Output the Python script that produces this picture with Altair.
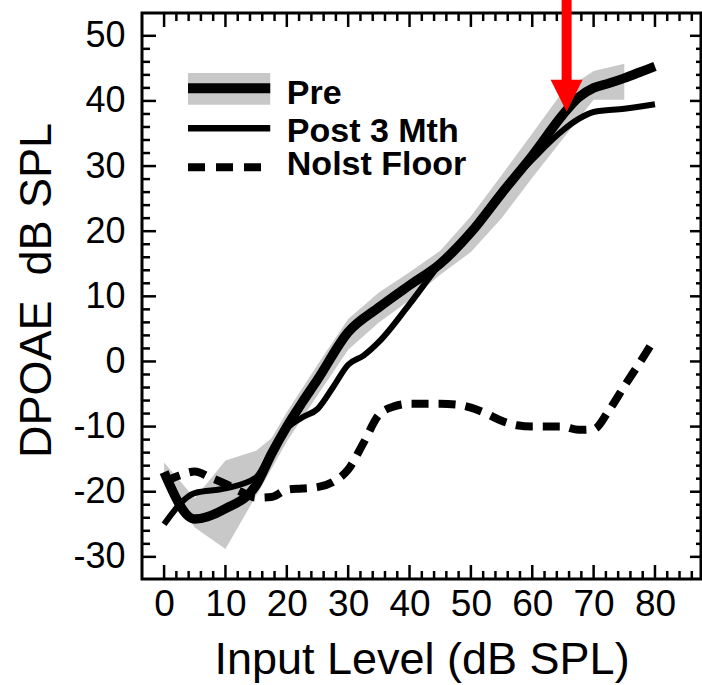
import altair as alt
import pandas as pd

# ---------------- data ----------------
PRE_X = [0, 5, 10, 15, 17.5, 20, 22.5, 25, 30, 35, 40, 45, 50, 55, 60, 65, 67.5, 70, 72.5, 75, 77.5, 80]
PRE_Y = [-17.0, -24.2, -22.6, -19.0, -14.2, -10.0, -6.3, -2.8, 4.5, 8.3, 11.7, 15.0, 19.8, 25.8,
         31.6, 37.9, 40.5, 42.0, 42.7, 43.5, 44.4, 45.3]

POST_X = [0, 5, 10, 15, 17.5, 20, 22.5, 25, 27.5, 30, 32.5, 35, 40, 45, 50, 55, 60, 65, 67.5, 70, 75, 80]
POST_Y = [-25.0, -20.2, -19.5, -17.8, -13.8, -10.3, -8.6, -7.3, -4.0, -0.5, 0.9, 3.0, 8.8, 15.0,
          20.0, 26.0, 31.0, 35.5, 37.2, 38.3, 38.8, 39.5]

BAND_X = [0, 5, 10, 15, 17.5, 20, 25, 30, 35, 40, 45, 50, 55, 60, 65, 70, 75]
BAND_LO = [-18.3, -25.5, -28.8, -20.6, -16.5, -12.3, -5.2, 1.8, 6.0, 9.4, 13.3, 16.8, 22.0, 28.2, 34.2, 40.2, 40.2]
BAND_HI = [-15.5, -21.0, -15.2, -13.7, -11.8, -7.8, -0.5, 6.5, 10.6, 13.7, 17.0, 22.3, 28.6, 35.0, 41.5, 44.6, 45.7]

NOISE_X = [0, 2.5, 5, 7.5, 10, 12.5, 15, 17.5, 20, 22.5, 25, 27.5, 30, 32.5, 35, 37.5, 40, 45,
           47.5, 50, 52.5, 55, 57.5, 60, 65, 67.5, 70, 72.5, 75, 77.5, 80]
NOISE_Y = [-18.5, -17.5, -16.9, -17.8, -18.8, -20.0, -20.9, -20.8, -19.7, -19.5, -19.3, -18.5, -16.6,
           -12.5, -8.2, -6.9, -6.5, -6.5, -6.6, -7.1, -8.0, -9.1, -9.8, -10.0, -10.0, -10.5, -10.4,
           -7.5, -3.8, -0.2, 3.5]

X_LABELS = [0, 10, 20, 30, 40, 50, 60, 70, 80]
Y_LABELS = [-30, -20, -10, 0, 10, 20, 30, 40, 50]
X_TICKS = list(range(0, 87, 2))
Y_TICKS = list(range(-30, 51, 2))

LEGEND_LABELS = ["Pre", "Post 3 Mth", "Nolst Floor"]
LEGEND_LINE_Y = [41.95, 35.8, 29.8]
LEGEND_TEXT_Y = [39.6, 33.7, 28.6]
LEGEND_X0, LEGEND_X1, LEGEND_TX = 3.9, 17.3, 20.0
LEGEND_BAND = [39.4, 44.3]

ARROW_X = 65.6
ARROW_SHAFT = [43.2, 55.5]
ARROW_HEAD_Y = 40.8

XMIN, XMAX = -3.6, 87.5
YMIN, YMAX = -33.4, 53.5

FONT = "Liberation Sans"
GRAY = "#c8c8c8"
RED = "#ff0000"

sx = alt.Scale(domain=[XMIN, XMAX], nice=False, zero=False)
sy = alt.Scale(domain=[YMIN, YMAX], nice=False, zero=False)

x_axis = alt.Axis(values=X_LABELS, ticks=False, tickSize=0, domain=False, grid=False,
                  labelFont=FONT, labelFontSize=37, labelColor="black", labelPadding=7,
                  labelFlush=False, labelOverlap=False, labelExpr="'' + datum.value",
                  title="Input Level (dB SPL)", titleFont=FONT, titleFontSize=45,
                  titleFontWeight="normal", titleColor="black", titleY=94,
                  titleBaseline="alphabetic")
y_axis = alt.Axis(values=Y_LABELS, ticks=False, tickSize=0, domain=False, grid=False,
                  labelFont=FONT, labelFontSize=36, labelColor="black", labelPadding=17,
                  labelFlush=False, labelOverlap=False, labelExpr="'' + datum.value",
                  title="DPOAE\u00a0\u00a0dB SPL", titleFont=FONT, titleFontSize=45,
                  titleFontWeight="normal", titleColor="black", titleAngle=270,
                  titleX=-92, titleY=277, titleBaseline="alphabetic", titleAlign="center")


# every layer carries the identical axis definition so they merge into one
def X(field):
    return alt.X(field, type="quantitative", scale=sx, axis=x_axis)


def Y(field):
    return alt.Y(field, type="quantitative", scale=sy, axis=y_axis)


pre_df = pd.DataFrame({"x": PRE_X, "y": PRE_Y})
post_df = pd.DataFrame({"x": POST_X, "y": POST_Y})
band_df = pd.DataFrame({"x": BAND_X, "lo": BAND_LO, "hi": BAND_HI})
noise_df = pd.DataFrame({"x": NOISE_X, "y": NOISE_Y})

band = alt.Chart(band_df).mark_area(color=GRAY, opacity=1, interpolate="linear").encode(
    x=X("x"), y=Y("lo"), y2="hi")
noise = alt.Chart(noise_df).mark_line(color="black", strokeWidth=8, strokeDash=[17, 10],
                                      interpolate="monotone", strokeCap="butt").encode(
    x=X("x"), y=Y("y"))
post = alt.Chart(post_df).mark_line(color="black", strokeWidth=6, interpolate="monotone").encode(
    x=X("x"), y=Y("y"))
pre = alt.Chart(pre_df).mark_line(color="black", strokeWidth=9.5, interpolate="monotone").encode(
    x=X("x"), y=Y("y"))


# ----- inward ticks on all four sides -----
def tick_layers():
    layers = []
    for major in (True, False):
        size = 14 if major else 8
        xs = [v for v in X_TICKS if (v % 10 == 0) == major]
        ys = [v for v in Y_TICKS if (v % 10 == 0) == major]
        layers.append(alt.Chart(pd.DataFrame({"y": ys, "x": [XMIN] * len(ys)})).mark_tick(
            orient="horizontal", size=size, thickness=2.5, color="black", xOffset=size / 2,
            opacity=1).encode(x=X("x"), y=Y("y")))
        layers.append(alt.Chart(pd.DataFrame({"y": ys, "x": [XMAX] * len(ys)})).mark_tick(
            orient="horizontal", size=size - 3, thickness=2.5, color="black",
            xOffset=-(size - 3) / 2, opacity=1).encode(x=X("x"), y=Y("y")))
        layers.append(alt.Chart(pd.DataFrame({"x": xs, "y": [YMIN] * len(xs)})).mark_tick(
            orient="vertical", size=size, thickness=2.5, color="black", yOffset=-size / 2,
            opacity=1).encode(x=X("x"), y=Y("y")))
        layers.append(alt.Chart(pd.DataFrame({"x": xs, "y": [YMAX] * len(xs)})).mark_tick(
            orient="vertical", size=size, thickness=2.5, color="black", yOffset=size / 2,
            opacity=1).encode(x=X("x"), y=Y("y")))
    return layers


# ----- legend -----
leg_band = alt.Chart(pd.DataFrame({"x": [LEGEND_X0], "x2": [LEGEND_X1],
                                   "y": [LEGEND_BAND[0]], "y2": [LEGEND_BAND[1]]})).mark_rect(
    color=GRAY).encode(x=X("x"), x2="x2", y=Y("y"), y2="y2")
leg_df = pd.DataFrame({"x": [LEGEND_X0] * 3, "x2": [LEGEND_X1] * 3, "y": LEGEND_LINE_Y,
                       "label": LEGEND_LABELS, "ty": LEGEND_TEXT_Y, "tx": [LEGEND_TX] * 3})
leg_pre = alt.Chart(leg_df.iloc[[0]]).mark_rule(color="black", strokeWidth=10).encode(
    x=X("x"), x2="x2", y=Y("y"))
leg_post = alt.Chart(leg_df.iloc[[1]]).mark_rule(color="black", strokeWidth=6.5).encode(
    x=X("x"), x2="x2", y=Y("y"))
leg_noise = alt.Chart(leg_df.iloc[[2]]).mark_rule(color="black", strokeWidth=8,
                                                  strokeDash=[17, 11], strokeCap="butt").encode(
    x=X("x"), x2="x2", y=Y("y"))
leg_text = alt.Chart(leg_df).mark_text(font=FONT, fontSize=34, fontWeight="bold", color="black",
                                       align="left", baseline="alphabetic").encode(
    x=X("tx"), y=Y("ty"), text="label:N")

# ----- red arrow -----
arrow_df = pd.DataFrame({"x": [ARROW_X], "y": [ARROW_SHAFT[0]], "y2": [ARROW_SHAFT[1]],
                         "hy": [ARROW_HEAD_Y]})
shaft = alt.Chart(arrow_df).mark_rule(color=RED, strokeWidth=10, strokeCap="butt").encode(
    x=X("x"), y=Y("y"), y2="y2")
head = alt.Chart(arrow_df).mark_point(shape="M-1,-1L1,-1L0,1Z", size=1024, filled=True,
                                      color=RED, opacity=1, strokeWidth=0).encode(
    x=X("x"), y=Y("hy"))

chart = alt.layer(band, noise, post, pre, *tick_layers(), leg_band, leg_pre, leg_post, leg_noise,
                  leg_text, shaft, head).properties(
    width=559, height=566,
    padding={"left": 142, "top": 13, "right": 1, "bottom": 106},
    autosize=alt.AutoSizeParams(type="none"),
    background="white",
).configure_view(stroke="black", strokeWidth=3)

chart.save("out.html", embed_options={"renderer": "svg", "actions": False})
